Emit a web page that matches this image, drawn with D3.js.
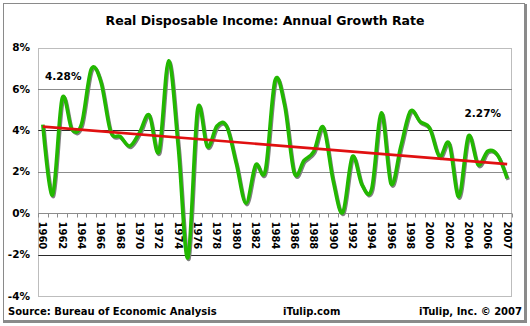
<!DOCTYPE html>
<html><head><meta charset="utf-8">
<script src="https://cdn.jsdelivr.net/npm/d3@7"></script>
<style>
body{margin:0;background:#fff}
svg{display:block}
text{font-family:"DejaVu Sans",Verdana,sans-serif;font-weight:bold;fill:#000}
</style>
</head><body>
<svg id="c" width="530" height="326"></svg>
<script>
const categories = [];
for (let yr = 1960; yr <= 2006; yr++) categories.push(String(yr));
categories.push("2007Q1", "2007");

const growth = [4.28, 0.88, 5.55, 4.05, 4.3, 6.95, 6.35, 3.95, 3.7, 3.24,
  3.9, 4.74, 2.97, 7.36, 3.2, -2.15, 5.02, 3.21, 4.21, 4.2,
  2.4, 0.48, 2.33, 2.05, 6.4, 5.2, 1.93, 2.54, 2.97, 4.15,
  1.6, 0.03, 2.73, 1.36, 1.18, 4.85, 1.41, 3.21, 4.93, 4.42,
  4.1, 2.73, 3.37, 0.8, 3.73, 2.33, 3.0, 2.81, 1.68];

const trend = [4.18, 2.37];
const yTicks = [8, 6, 4, 2, 0, -2, -4];
const xTickLabels = ["1960","1962","1964","1966","1968","1970","1972","1974","1976","1978",
  "1980","1982","1984","1986","1988","1990","1992","1994","1996","1998","2000","2002","2004","2006","2007"];
const title = "Real Disposable Income: Annual Growth Rate";
const annotationLabels = ["4.28%", "2.27%"];
const footer = ["Source: Bureau of Economic Analysis", "iTulip.com", "iTulip, Inc. \u00A9 2007"];

(function () {
const svg = d3.select("#c");

// frame
svg.append("rect").attr("x",3.5).attr("y",3.5).attr("width",521).attr("height",317)
  .attr("fill","#fff").attr("stroke","#8a8a8a").attr("stroke-width",1);
svg.append("line").attr("x1",525.5).attr("x2",525.5).attr("y1",4).attr("y2",323)
  .attr("stroke","#8a8a8a").attr("stroke-width",3);
svg.append("line").attr("x1",3).attr("x2",527).attr("y1",321.5).attr("y2",321.5)
  .attr("stroke","#8a8a8a").attr("stroke-width",3);

const pL = 38, pR = 512, pT = 47.5, pB = 296;
const x = d3.scaleBand().domain(categories).range([pL, pR]);
const cx = c => x(c) + x.bandwidth() / 2;
const y = d3.scaleLinear().domain([-4, 8]).range([pB, pT]);

// title
svg.append("text").attr("x", 265).attr("y", 24.5).attr("text-anchor","middle")
  .style("font-size","12.5px").text(title);

// gridlines
const gridColor = {"6":"#8c8c8c", "4":"#2a2a2a", "2":"#8c8c8c", "-2":"#2a2a2a"};
svg.append("g").selectAll("line").data(yTicks.filter(v => v !== 8 && v !== -4 && v !== 0))
  .join("line")
  .attr("x1", pL).attr("x2", pR)
  .attr("y1", d => Math.round(y(d)) + 0.5).attr("y2", d => Math.round(y(d)) + 0.5)
  .attr("stroke", d => gridColor[String(d)]).attr("stroke-width", 1);

// plot border (dotted grey)
svg.append("rect").attr("x", pL + 0.5).attr("y", Math.round(pT) + 0.5)
  .attr("width", pR - pL - 1).attr("height", Math.round(pB) - Math.round(pT))
  .attr("fill","none").attr("stroke","#7a7a7a").attr("stroke-dasharray","1,1");

// zero axis + ticks
const y0 = Math.round(y(0)) + 0.5;
svg.append("line").attr("x1", pL).attr("x2", pR).attr("y1", y0).attr("y2", y0)
  .attr("stroke","#8c8c8c");
const tickXs = categories.map(c => x(c)).concat([pR]);
svg.append("g").selectAll("line").data(tickXs).join("line")
  .attr("x1", d => Math.round(d) + 0.5).attr("x2", d => Math.round(d) + 0.5)
  .attr("y1", y0).attr("y2", y0 + 4).attr("stroke","#8c8c8c");

// y labels
svg.append("g").selectAll("text").data(yTicks).join("text")
  .attr("x", 30).attr("y", d => y(d)).attr("dy","0.35em")
  .attr("text-anchor","end").style("font-size","10.5px")
  .text(d => d + "%");

// x labels rotated
svg.append("g").selectAll("text").data(xTickLabels).join("text")
  .attr("transform", d => `translate(${cx(d)},${y0 + 8}) rotate(90)`)
  .attr("dy","0.35em").style("font-size","10px")
  .text(d => d);

// green line with shadow
const line = d3.line().x((d, i) => cx(categories[i])).y(d => y(d)).curve(d3.curveCardinal.tension(0));
svg.append("path").datum(growth).attr("d", line)
  .attr("fill","none").attr("stroke","#808080").attr("stroke-width",3.5)
  .attr("stroke-linejoin","round").attr("transform","translate(1,1.5)");
svg.append("path").datum(growth).attr("d", line)
  .attr("fill","none").attr("stroke","#22b800").attr("stroke-width",3.6)
  .attr("stroke-linejoin","round").attr("stroke-linecap","butt");

// trend line
const tA = categories[0], tB = categories[categories.length - 1];
svg.append("line")
  .attr("x1", cx(tA)).attr("y1", y(trend[0]))
  .attr("x2", cx(tB)).attr("y2", y(trend[1]))
  .attr("stroke","#e01010").attr("stroke-width",2.6);

// annotations
svg.append("text").attr("x", 45).attr("y", y(6.6)).attr("dy","0.35em")
  .style("font-size","10.5px").text(annotationLabels[0]);
svg.append("text").attr("x", 501).attr("y", y(4.84)).attr("dy","0.35em")
  .attr("text-anchor","end").style("font-size","10.5px").text(annotationLabels[1]);

// footer
svg.append("text").attr("x", 8).attr("y", 315).style("font-size","10px").text(footer[0]);
svg.append("text").attr("x", 283).attr("y", 315).style("font-size","10px").text(footer[1]);
svg.append("text").attr("x", 522).attr("y", 315).attr("text-anchor","end").style("font-size","10px").text(footer[2]);
})();
</script>
</body></html>
